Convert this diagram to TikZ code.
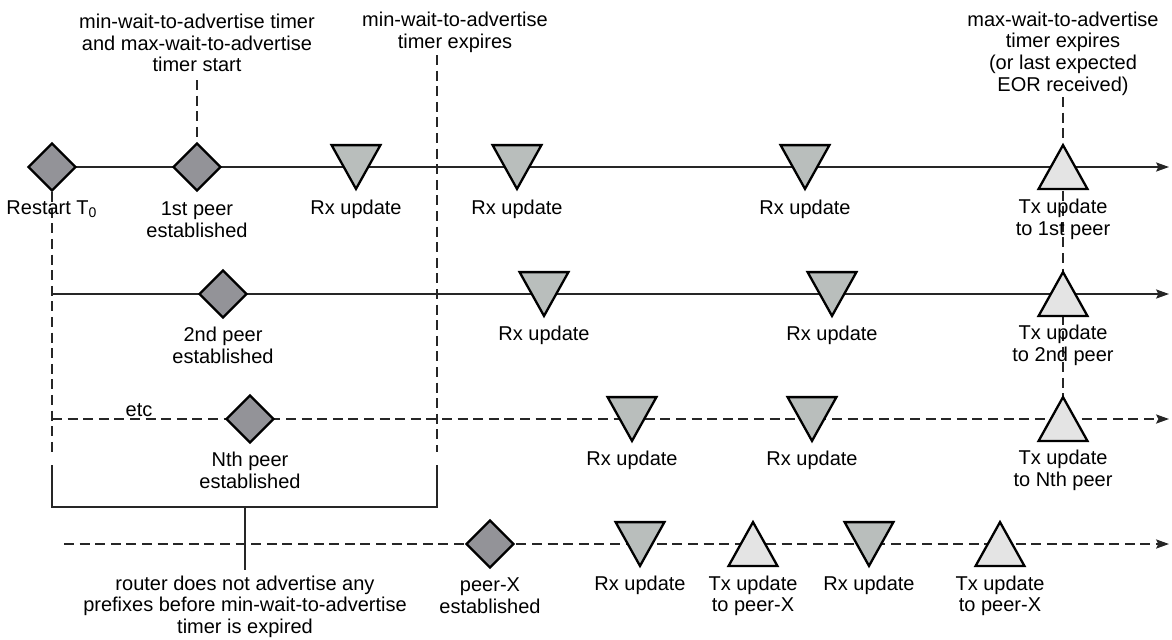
\documentclass[tikz,border=0pt]{standalone}
\usepackage{fontspec}
\setmainfont{Liberation Sans}
\usetikzlibrary{arrows.meta,shapes.geometric}
\definecolor{dgray}{RGB}{147,147,152}
\definecolor{rxgray}{RGB}{185,190,188}
\definecolor{txgray}{RGB}{228,228,228}
\pgfdeclarelayer{bg}
\pgfsetlayers{bg,main}
\begin{document}
\begin{tikzpicture}[x=0.5pt,y=-0.5pt,
  lbl/.style={font=\fontsize{10}{10.8}\selectfont, align=center, inner sep=0pt},
  ln/.style={line width=0.7pt, draw=black!85},
  dsh/.style={ln, dash pattern=on 5pt off 2.8pt},
  arr/.style={-{Stealth[length=6.5pt,width=4.6pt,inset=1.2pt]}},
  dia/.style={diamond, draw, line width=1.15pt, fill=dgray, minimum width=24pt, minimum height=24pt, inner sep=0pt},
  mark box/.style={minimum width=24pt, minimum height=21.5pt, inner sep=0pt},
  rxfill/.style={draw, line width=1.15pt, fill=rxgray},
  txfill/.style={draw, line width=1.15pt, fill=txgray},
]
\useasboundingbox (0,0) rectangle (1172,639);

% ---- row 1
\node[dia] (R) at (52,167) {};
\node[dia] (P1) at (197,167) {};
\node[mark box] (A1) at (356,167) {};
\node[mark box] (A2) at (517,167) {};
\node[mark box] (A3) at (805,167) {};
\node[mark box] (T1) at (1063,167) {};
\coordinate (E1) at (1169,167);

% ---- row 2
\coordinate (S2) at (52,294);
\node[dia] (P2) at (223,294) {};
\node[mark box] (B1) at (544,294) {};
\node[mark box] (B2) at (832,294) {};
\node[mark box] (T2) at (1063,294) {};
\coordinate (E2) at (1169,294);

% ---- row 3
\coordinate (S3) at (52,419);
\node[dia] (PN) at (250,419) {};
\node[mark box] (C1) at (632,419) {};
\node[mark box] (C2) at (812,419) {};
\node[mark box] (T3) at (1063,419) {};
\coordinate (E3) at (1169,419);

% ---- row 4
\coordinate (S4) at (64,544);
\node[dia] (PX) at (490,544) {};
\node[mark box] (D1) at (640,544) {};
\node[mark box] (D2) at (753,544) {};
\node[mark box] (D3) at (869,544) {};
\node[mark box] (D4) at (1000,544) {};
\coordinate (E4) at (1169,544);

% triangles
\foreach \n in {A1,A2,A3,B1,B2,C1,C2,D1,D3}
  \draw[rxfill] (\n.north west) -- (\n.north east) -- (\n.south) -- cycle;
\foreach \n in {T1,T2,T3,D2,D4}
  \draw[txfill] (\n.south west) -- (\n.south east) -- (\n.north) -- cycle;

% ---- top labels
\node[lbl] (L1) at (197,43) {min-wait-to-advertise timer\\and max-wait-to-advertise\\timer start};
\node[lbl] (L2) at (455,32.5) {min-wait-to-advertise\\timer expires};
\node[lbl] (L3) at (1063,53.5) {max-wait-to-advertise\\timer expires\\(or last expected\\EOR received)};
\coordinate (L1b) at (197,80);
\coordinate (L2b) at (437,55);
\coordinate (L3b) at (1063,97);

% ---- row labels
\node[lbl] at (52,209) {Restart T\textsubscript{0}};
\node[lbl] at (197,219.5) {1st peer\\established};
\node[lbl] at (356,209) {Rx update};
\node[lbl] at (517,209) {Rx update};
\node[lbl] at (805,209) {Rx update};
\node[lbl] at (1063,219.5) {Tx update\\to 1st peer};

\node[lbl] at (223,345.5) {2nd peer\\established};
\node[lbl] at (544,335) {Rx update};
\node[lbl] at (832,335) {Rx update};
\node[lbl] at (1063,345.5) {Tx update\\to 2nd peer};

\node[lbl] at (139,410) {etc};
\node[lbl] at (250,470.5) {Nth peer\\established};
\node[lbl] at (632,460) {Rx update};
\node[lbl] at (812,460) {Rx update};
\node[lbl] at (1063,470.5) {Tx update\\to Nth peer};

\node[lbl] at (490,596) {peer-X\\established};
\node[lbl] at (640,585) {Rx update};
\node[lbl] at (753,596) {Tx update\\to peer-X};
\node[lbl] at (869,585) {Rx update};
\node[lbl] at (1000,596) {Tx update\\to peer-X};

\node[lbl] (RT) at (245,606.5) {router does not advertise any\\prefixes before min-wait-to-advertise\\timer is expired};

% ---- bracket coordinates
\coordinate (V1e) at (52,452);
\coordinate (V2e) at (437,452);
\coordinate (BL) at (52,465);
\coordinate (BLb) at (52,507);
\coordinate (BRb) at (437,507);
\coordinate (BR) at (437,465);
\coordinate (ST) at (245,507);
\coordinate (SB) at (245,570);

\begin{pgfonlayer}{bg}
  \draw[ln,arr] (R.center) -- (E1);
  \draw[ln,arr] (S2) -- (E2);
  \draw[dsh,arr] (S3) -- (E3);
  \draw[dsh,arr] (S4) -- (E4);
  \draw[dsh] (R.south) -- (V1e);
  \draw[dsh] (L2b) -- (V2e);
  \draw[dsh] (L1b) -- (P1.north);
  \draw[dsh] (L3b) -- (T3.north);
  \draw[ln] (BL) -- (BLb) -- (BRb) -- (BR);
  \draw[ln] (ST) -- (SB);
\end{pgfonlayer}
\end{tikzpicture}
\end{document}
